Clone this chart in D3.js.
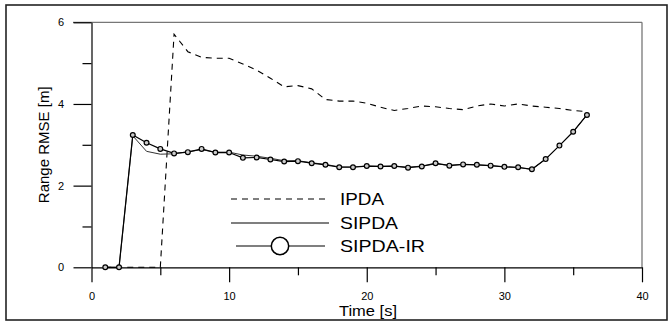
<!DOCTYPE html>
<html>
<head>
<meta charset="utf-8">
<script src="https://cdn.jsdelivr.net/npm/d3@7"></script>
<style>
  body { margin: 0; background: #fff; }
  svg { display: block; font-family: "Liberation Sans", Arial, sans-serif; }
</style>
</head>
<body>
<div id="chart"></div>
<script>
// time steps [s]
const time = d3.range(1, 37);

// range RMSE [m] per tracker, one value per time step
const ipda = [0, 0, 0, 0, 0, 5.71, 5.28, 5.14, 5.12, 5.12, 4.98, 4.83, 4.63, 4.42, 4.45, 4.37, 4.11, 4.07,
  4.07, 4.02, 3.92, 3.84, 3.89, 3.95, 3.93, 3.89, 3.86, 3.95, 4.0, 3.95, 4.0, 3.95, 3.92, 3.89, 3.84, 3.81];
const sipda = [0, 0, 3.22, 2.84, 2.77, 2.78, 2.83, 2.88, 2.82, 2.82, 2.75, 2.72, 2.67, 2.61, 2.61, 2.56, 2.52, 2.46,
  2.46, 2.48, 2.47, 2.48, 2.45, 2.48, 2.53, 2.5, 2.52, 2.51, 2.49, 2.46, 2.44, 2.4, 2.65, 2.98, 3.32, 3.73];
const sipdaIr = [0, 0, 3.24, 3.05, 2.9, 2.79, 2.82, 2.9, 2.81, 2.81, 2.68, 2.69, 2.64, 2.59, 2.6, 2.55, 2.51, 2.45,
  2.45, 2.48, 2.47, 2.48, 2.44, 2.47, 2.55, 2.49, 2.52, 2.51, 2.49, 2.46, 2.45, 2.4, 2.65, 2.98, 3.32, 3.73];

const legendLabels = ["IPDA", "SIPDA", "SIPDA-IR"];
const xTicksMajor = [0, 10, 20, 30, 40];
const xTicksMinor = [5, 15, 25, 35];
const yTicksMajor = [0, 2, 4, 6];
const yTicksMinor = [1, 3, 5];

const W = 672, H = 331;
const svg = d3.select("#chart").append("svg").attr("width", W).attr("height", H);

// outer frame
svg.append("rect")
  .attr("x", 6).attr("y", 5).attr("width", 661).attr("height", 315)
  .attr("fill", "none").attr("stroke", "#222").attr("stroke-width", 1.6);

const x = d3.scaleLinear().domain([0, 40]).range([91.5, 642]);
const y = d3.scaleLinear().domain([0, 6]).range([267.3, 22.3]);

// top and right frame of the plot
svg.append("line").attr("x1", 73).attr("x2", x(40)).attr("y1", y(6)).attr("y2", y(6))
  .attr("stroke", "#777").attr("stroke-width", 1.3);
svg.append("line").attr("x1", x(40)).attr("x2", x(40)).attr("y1", y(6)).attr("y2", y(0))
  .attr("stroke", "#777").attr("stroke-width", 1.3);

function styleAxis(g) {
  g.selectAll("path, line").attr("stroke", "#000").attr("stroke-width", 1.2);
  g.selectAll("text").attr("fill", "#000").style("font-size", "11px")
    .style("font-family", "'Liberation Sans', Arial, sans-serif");
}

// y axis
svg.append("g").attr("transform", `translate(${x(0)},0)`)
  .call(d3.axisLeft(y).tickValues(yTicksMinor).tickSize(9).tickFormat(""))
  .call(g => g.select(".domain").remove())
  .call(styleAxis);
svg.append("g").attr("transform", `translate(${x(0)},0)`)
  .call(d3.axisLeft(y).tickValues(yTicksMajor).tickSize(18).tickSizeOuter(0).tickPadding(9).tickFormat(d3.format("d")))
  .call(styleAxis)
  .call(g => g.selectAll(".tick text").attr("text-anchor", "middle").attr("x", -30.5));

// x axis
svg.append("g").attr("transform", `translate(0,${y(0)})`)
  .call(d3.axisBottom(x).tickValues(xTicksMinor).tickSize(8).tickFormat(""))
  .call(g => g.select(".domain").remove())
  .call(styleAxis);
svg.append("g").attr("transform", `translate(0,${y(0)})`)
  .call(d3.axisBottom(x).tickValues(xTicksMajor).tickSize(15).tickSizeOuter(0).tickPadding(10).tickFormat(d3.format("d")))
  .call(styleAxis);

// axis titles
svg.append("text")
  .attr("transform", `translate(44,${(y(0) + y(6)) / 2}) rotate(-90)`)
  .attr("text-anchor", "middle").attr("dy", "0.35em")
  .style("font-size", "15px").text("Range RMSE [m]");
svg.append("text")
  .attr("x", 339).attr("y", 316)
  .attr("textLength", 58).attr("lengthAdjust", "spacingAndGlyphs")
  .style("font-size", "15px").text("Time [s]");

const line = d3.line().x((d, i) => x(time[i])).y(d => y(d));

svg.append("path").datum(ipda).attr("d", line)
  .attr("fill", "none").attr("stroke", "#000").attr("stroke-width", 1.1).attr("stroke-dasharray", "6,5");
svg.append("path").datum(sipda).attr("d", line)
  .attr("fill", "none").attr("stroke", "#333").attr("stroke-width", 1);
svg.append("path").datum(sipdaIr).attr("d", line)
  .attr("fill", "none").attr("stroke", "#000").attr("stroke-width", 1.2);
svg.append("g").selectAll("circle").data(sipdaIr).join("circle")
  .attr("cx", (d, i) => x(time[i])).attr("cy", d => y(d)).attr("r", 2.4)
  .attr("fill", "#ccc").attr("stroke", "#000").attr("stroke-width", 1.2);

// legend
const legendY = [199, 223, 246];
const legendW = [44, 58, 85];
const lg = svg.append("g");
lg.append("line").attr("x1", 231).attr("x2", 328).attr("y1", legendY[0]).attr("y2", legendY[0])
  .attr("stroke", "#000").attr("stroke-width", 1.1).attr("stroke-dasharray", "6,5");
lg.append("line").attr("x1", 231).attr("x2", 329).attr("y1", legendY[1]).attr("y2", legendY[1])
  .attr("stroke", "#555").attr("stroke-width", 1.4);
lg.append("line").attr("x1", 236).attr("x2", 325).attr("y1", legendY[2]).attr("y2", legendY[2])
  .attr("stroke", "#000").attr("stroke-width", 1.2);
lg.append("circle").attr("cx", 280).attr("cy", legendY[2]).attr("r", 8.7)
  .attr("fill", "#fff").attr("stroke", "#000").attr("stroke-width", 1.5);
lg.selectAll("text").data(legendLabels).join("text")
  .attr("x", 340).attr("y", (d, i) => legendY[i]).attr("dy", "0.36em")
  .attr("textLength", (d, i) => legendW[i]).attr("lengthAdjust", "spacingAndGlyphs")
  .style("font-size", "17px").text(d => d);
</script>
</body>
</html>
